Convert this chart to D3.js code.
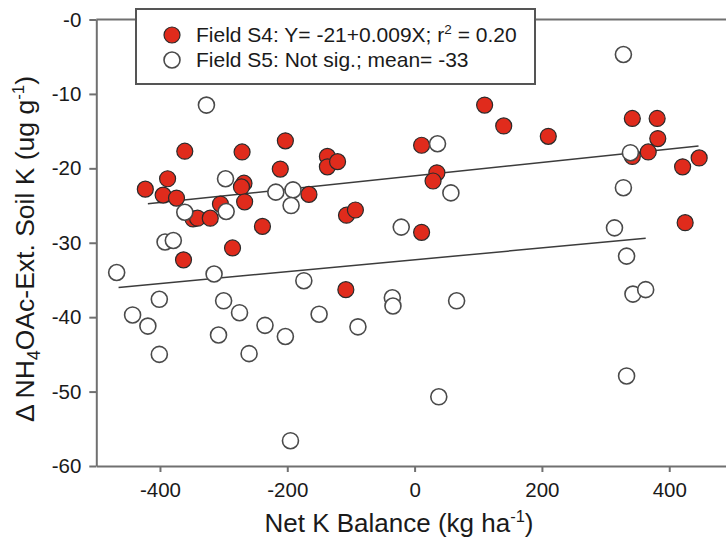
<!DOCTYPE html>
<html><head><meta charset="utf-8">
<script src="https://cdn.jsdelivr.net/npm/d3@7"></script>
<style>
body{margin:0;background:#fff}
svg{display:block}
text{font-family:"Liberation Sans",Arial,Helvetica,sans-serif;fill:#1a1a1a}
</style>
</head><body><script>
// ---- Data ----
const s4X=[-423,-388,-395,-374,-361,-363,-348,-341,-321,-305,-286,-271,-268,-272,-267,-239,-211,-203,-166,-137,-137,-121,-107,-93,-108,11,11,35,29,110,140,210,342,381,382,367,342,421,447,425];
const s4Y=[-22.8,-21.4,-23.6,-24.0,-17.7,-32.3,-26.8,-26.7,-26.7,-24.8,-30.7,-17.8,-22.0,-22.5,-24.5,-27.8,-20.1,-16.3,-23.5,-18.4,-19.8,-19.1,-26.3,-25.6,-36.3,-16.9,-28.6,-20.6,-21.7,-11.5,-14.3,-15.7,-13.3,-13.3,-16.0,-17.8,-18.4,-19.8,-18.6,-27.3];
const s5X=[-468,-443,-419,-401,-401,-392,-379,-361,-327,-315,-308,-300,-296,-297,-275,-260,-235,-218,-203,-191,-194,-195,-174,-150,-89,-35,-34,-21,36,38,57,66,314,328,328,333,333,339,343,363];
const s5Y=[-34.0,-39.7,-41.2,-45.0,-37.6,-29.9,-29.7,-25.9,-11.5,-34.2,-42.4,-37.8,-25.8,-21.4,-39.4,-44.9,-41.1,-23.2,-42.6,-22.9,-25.0,-56.6,-35.1,-39.6,-41.3,-37.4,-38.5,-27.9,-16.7,-50.7,-23.3,-37.8,-28.0,-4.7,-22.6,-31.8,-47.9,-17.9,-36.9,-36.3];
const s4FitX=[-419,446];           // S4: Y = -21 + 0.009X
const s4Intercept=-21, s4Slope=0.009;
const s5FitX=[-465,363];
const s5FitY=[-36.0,-29.4];
const xTicks=[-400,-200,0,200,400];
const xTickLabels=["-400","-200","0","200","400"];
const yTicks=[0,-10,-20,-30,-40,-50,-60];
const yTickLabels=["-0","-10","-20","-30","-40","-50","-60"];
const xDomain=[-500,500];
const yDomain=[-60,0];

// ---- Layout ----
const W=726,H=538;
const svg=d3.select("body").append("svg").attr("width",W).attr("height",H);
const x=d3.scaleLinear().domain(xDomain).range([96.3,732.9]);
const y=d3.scaleLinear().domain(yDomain).range([466,19.5]);
const axisColor="#707070";

// top frame line
svg.append("line").attr("x1",x(xDomain[0])).attr("x2",W).attr("y1",y(0)).attr("y2",y(0))
  .attr("stroke",axisColor).attr("stroke-width",2);

const gx=svg.append("g").attr("transform",`translate(0,${y(yDomain[0])})`)
  .call(d3.axisBottom(x).tickValues(xTicks).tickFormat((d,i)=>xTickLabels[i]).tickSize(6).tickSizeOuter(0).tickPadding(10));
const gy=svg.append("g").attr("transform",`translate(${x(xDomain[0])},0)`)
  .call(d3.axisLeft(y).tickValues(yTicks).tickFormat((d,i)=>yTickLabels[i]).tickSize(7).tickSizeOuter(0).tickPadding(8));
[gx,gy].forEach(g=>{
  g.select(".domain").attr("stroke",axisColor).attr("stroke-width",2);
  g.selectAll(".tick line").attr("stroke",axisColor).attr("stroke-width",2);
  g.selectAll(".tick text").attr("font-size","20.5px").attr("fill","#1a1a1a")
    .style("font-family",'"Liberation Sans",Arial,sans-serif');
});

// fit lines
const line=d3.line().x(d=>x(d[0])).y(d=>y(d[1]));
svg.append("path").datum(s4FitX.map(v=>[v,s4Intercept+s4Slope*v])).attr("d",line)
  .attr("fill","none").attr("stroke","#3c3c3c").attr("stroke-width",1.5);
svg.append("path").datum(s5FitX.map((v,i)=>[v,s5FitY[i]])).attr("d",line)
  .attr("fill","none").attr("stroke","#3c3c3c").attr("stroke-width",1.5);

// points
const r=8;
svg.append("g").selectAll("circle").data(s4X.map((v,i)=>[v,s4Y[i]])).join("circle")
  .attr("cx",d=>x(d[0])).attr("cy",d=>y(d[1])).attr("r",r)
  .attr("fill","#e02b1c").attr("stroke","#2a2a2a").attr("stroke-width",1.2);
svg.append("g").selectAll("circle").data(s5X.map((v,i)=>[v,s5Y[i]])).join("circle")
  .attr("cx",d=>x(d[0])).attr("cy",d=>y(d[1])).attr("r",r)
  .attr("fill","#fff").attr("stroke","#4a4a4a").attr("stroke-width",1.6);

// legend
const lg=svg.append("g");
lg.append("rect").attr("x",136).attr("y",9).attr("width",399).attr("height",75)
  .attr("fill","#fff").attr("stroke","#555").attr("stroke-width",2);
lg.append("circle").attr("cx",172).attr("cy",35).attr("r",r).attr("fill","#e02b1c").attr("stroke","#2a2a2a").attr("stroke-width",1.2);
lg.append("circle").attr("cx",172).attr("cy",60).attr("r",r).attr("fill","#fff").attr("stroke","#4a4a4a").attr("stroke-width",1.6);
const t1=lg.append("text").attr("x",196).attr("y",42).attr("font-size","21px");
t1.append("tspan").text("Field S4: Y= -21+0.009X; r");
t1.append("tspan").attr("font-size","13.5px").attr("dy",-8).text("2");
t1.append("tspan").attr("dy",8).text(" = 0.20");
lg.append("text").attr("x",196).attr("y",67).attr("font-size","21px").text("Field S5: Not sig.; mean= -33");

// x title
const xt=svg.append("text").attr("x",399).attr("y",531.5).attr("text-anchor","middle").attr("font-size","26px");
xt.append("tspan").text("Net K Balance (kg ha");
xt.append("tspan").attr("font-size","16.5px").attr("dy",-10).text("-1");
xt.append("tspan").attr("dy",10).text(")");

// y title
const yt=svg.append("text").attr("transform","translate(34,249) rotate(-90)").attr("text-anchor","middle").attr("font-size","26.5px");
yt.append("tspan").text("\u0394 NH");
yt.append("tspan").attr("font-size","18px").attr("dy",6).text("4");
yt.append("tspan").attr("dy",-6).text("OAc-Ext. Soil K (ug g");
yt.append("tspan").attr("font-size","17px").attr("dy",-10).text("-1");
yt.append("tspan").attr("dy",10).text(")");
</script></body></html>
